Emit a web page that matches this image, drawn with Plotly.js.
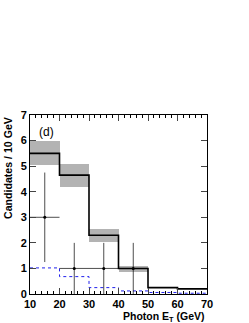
<!DOCTYPE html>
<html><head><meta charset="utf-8">
<script src="https://cdn.plot.ly/plotly-3.0.1.min.js"></script>
<style>body{margin:0;background:#fff}#c{width:249px;height:323px}</style>
</head><body><div id="c"></div>
<script>
const binEdges = [10, 20, 30, 40, 50, 60, 70];
const predicted = [5.5, 4.65, 2.3, 1.0, 0.25, 0.2];
const bandLow = [5.05, 4.2, 2.05, 0.85, 0.22, 0.18];
const bandHigh = [6.0, 5.1, 2.55, 1.1, 0.28, 0.22];
const background = [1.02, 0.68, 0.25, 0.12, 0.06, 0.03];
const dataX = [15, 25, 35, 45];
const dataY = [3, 1, 1, 1];
const dataErrLow = [1.75, 1, 1, 1];
const dataErrHigh = [1.75, 1, 1, 1];

const centers = binEdges.slice(0, -1).map((e, i) => (e + binEdges[i + 1]) / 2);
const widths = binEdges.slice(0, -1).map((e, i) => binEdges[i + 1] - e);
const stepY = a => a.concat([a[a.length - 1]]);

const traces = [
  {type: 'bar', x: centers, y: bandHigh.map((h, i) => h - bandLow[i]), base: bandLow, width: widths,
   marker: {color: '#b3b3b3', line: {width: 0}}, hoverinfo: 'skip'},
  {type: 'scatter', mode: 'lines', x: binEdges, y: stepY(predicted), line: {shape: 'hv', color: '#000', width: 1.6}},
  {type: 'scatter', mode: 'lines', x: binEdges, y: stepY(background), line: {shape: 'hv', color: '#2020ee', width: 1, dash: 'dot'}},
  {type: 'scatter', mode: 'markers', x: dataX, y: dataY, marker: {color: '#000', size: 3},
   error_y: {type: 'data', symmetric: false, array: dataErrHigh, arrayminus: dataErrLow, color: '#000', thickness: 0.7, width: 0},
   error_x: {type: 'constant', value: 5, color: '#000', thickness: 0.7, width: 0}}
];

const font = {family: 'Liberation Sans, Arial, sans-serif', color: '#000'};
const layout = {
  width: 249, height: 323,
  margin: {l: 30, r: 42, t: 115, b: 29},
  showlegend: false, barmode: 'overlay', bargap: 0,
  paper_bgcolor: '#fff', plot_bgcolor: '#fff',
  font: font,
  xaxis: {range: [10, 70], dtick: 10, tick0: 10, ticks: 'inside', ticklen: 6, mirror: 'ticks',
          showline: true, linecolor: '#000', linewidth: 1, showgrid: false, zeroline: false,
          tickfont: {family: 'Liberation Sans, Arial', size: 11, weight: 'bold', color: '#000'},
          minor: {dtick: 2, ticks: 'inside', ticklen: 3, tickcolor: '#000'}},
  yaxis: {range: [0, 7], dtick: 1, ticks: 'inside', ticklen: 6, mirror: 'ticks',
          showline: true, linecolor: '#000', linewidth: 1, showgrid: false, zeroline: false,
          tickfont: {family: 'Liberation Sans, Arial', size: 11, weight: 'bold', color: '#000'}},
  annotations: [
    {text: 'Photon E<sub>T</sub> (GeV)', xref: 'paper', yref: 'paper', x: 1, y: 0, xanchor: 'right', yanchor: 'top',
     yshift: -14, showarrow: false, font: {family: 'Liberation Sans, Arial', size: 10.5, weight: 'bold', color: '#000'}},
    {text: 'Candidates / 10 GeV', xref: 'paper', yref: 'paper', x: 0, y: 1, xanchor: 'center', yanchor: 'top',
     xshift: -22, textangle: -90, showarrow: false, font: {family: 'Liberation Sans, Arial', size: 10.6, weight: 'bold', color: '#000'}},
    {text: '(d)', xref: 'paper', yref: 'paper', x: 0.04, y: 0.905, xanchor: 'left', yanchor: 'middle',
     showarrow: false, font: {family: 'Liberation Sans, Arial', size: 12, color: '#000'}}
  ]
};
Plotly.newPlot('c', traces, layout, {staticPlot: true});
</script></body></html>
